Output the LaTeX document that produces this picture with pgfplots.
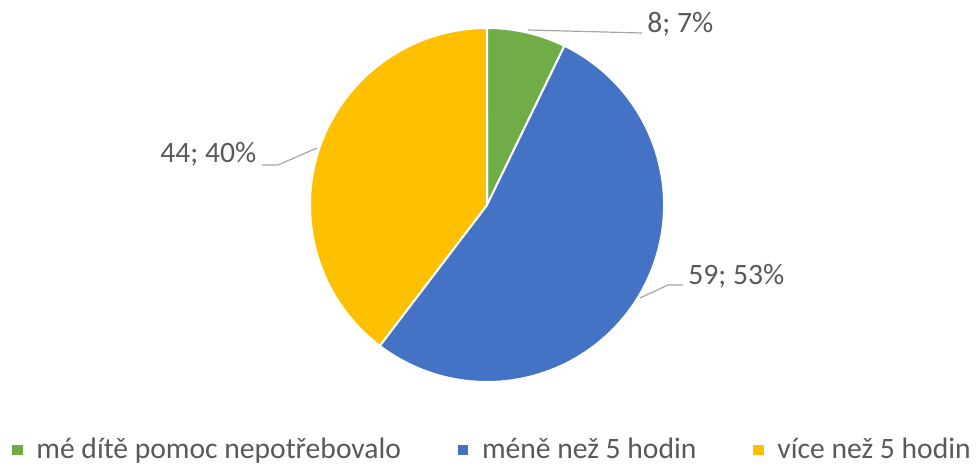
\documentclass[border=0pt]{standalone}
\usepackage{pgfplots}
\pgfplotsset{compat=1.18}
\usepackage{pgfplotstable}
\usepackage{fontspec}
\setmainfont{Carlito}
\definecolor{cgreen}{HTML}{70AD47}
\definecolor{cblue}{HTML}{4472C4}
\definecolor{cyellow}{HTML}{FFC000}
\definecolor{ctext}{HTML}{595959}
\definecolor{cline}{HTML}{A6A6A6}

\pgfplotstableread{
value
8
59
44
}\piedata
\pgfplotstablegetelem{0}{value}\of\piedata \let\va\pgfplotsretval
\pgfplotstablegetelem{1}{value}\of\piedata \let\vb\pgfplotsretval
\pgfplotstablegetelem{2}{value}\of\piedata \let\vc\pgfplotsretval
\pgfmathsetmacro\tot{\va+\vb+\vc}
\pgfmathsetmacro\fa{\va/\tot}
\pgfmathsetmacro\fb{\vb/\tot}
\pgfmathsetmacro\fc{\vc/\tot}
\pgfmathsetmacro\aA{90}
\pgfmathsetmacro\aB{\aA-360*\fa}
\pgfmathsetmacro\aC{\aB-360*\fb}
\pgfmathsetmacro\aD{\aC-360*\fc}
\pgfmathtruncatemacro\pa{round(100*\fa)}
\pgfmathtruncatemacro\pb{round(100*\fb)}
\pgfmathtruncatemacro\pc{round(100*\fc)}

\begin{document}
\begin{tikzpicture}
\begin{axis}[
  width=489bp, height=232bp, scale only axis,
  xmin=0, xmax=978, ymin=0, ymax=464,
  hide axis, clip=false,
  font=\fontsize{14.8bp}{17bp}\selectfont,
  legend image code/.code={\fill[#1] (0bp,-2.3bp) rectangle (4.6bp,2.3bp);},
  legend columns=3,
  legend style={at={(axis cs:12,14)}, anchor=west, draw=none, fill=none,
    inner sep=0pt, text=ctext, font=\fontsize{14.8bp}{17bp}\selectfont,
    /tikz/every odd column/.append style={column sep=7bp},
    /tikz/every even column/.append style={column sep=28.5bp},
    nodes={inner xsep=0pt, inner ysep=0pt}},
]
\path (axis cs:0,0) rectangle (axis cs:978,464);
\fill[cgreen, draw=white, line width=1bp] (axis cs:487,259) -- ++(\aA:88.5bp) arc[start angle=\aA, end angle=\aB, radius=88.5bp] -- cycle;
\fill[cblue, draw=white, line width=1bp] (axis cs:487,259) -- ++(\aB:88.5bp) arc[start angle=\aB, end angle=\aC, radius=88.5bp] -- cycle;
\fill[cyellow, draw=white, line width=1bp] (axis cs:487,259) -- ++(\aC:88.5bp) arc[start angle=\aC, end angle=\aD, radius=88.5bp] -- cycle;

\draw[cline, line width=0.6bp] (axis cs:528,434) -- (axis cs:642,431);
\node[anchor=base west, inner sep=0pt, text=ctext] at (axis cs:647,431) {\va; \pa\%};
\draw[cline, line width=0.6bp] (axis cs:640,166) -- (axis cs:668,179) -- (axis cs:683,179);
\node[anchor=base west, inner sep=0pt, text=ctext] at (axis cs:688,179) {\vb; \pb\%};
\draw[cline, line width=0.6bp] (axis cs:317,316) -- (axis cs:278,299) -- (axis cs:262,299);
\node[anchor=base west, inner sep=0pt, text=ctext] at (axis cs:160,301) {\vc; \pc\%};

\addlegendimage{cgreen}
\addlegendentry{mé dítě pomoc nepotřebovalo}
\addlegendimage{cblue}
\addlegendentry{méně než 5 hodin}
\addlegendimage{cyellow}
\addlegendentry{více než 5 hodin}
\end{axis}
\end{tikzpicture}
\end{document}
